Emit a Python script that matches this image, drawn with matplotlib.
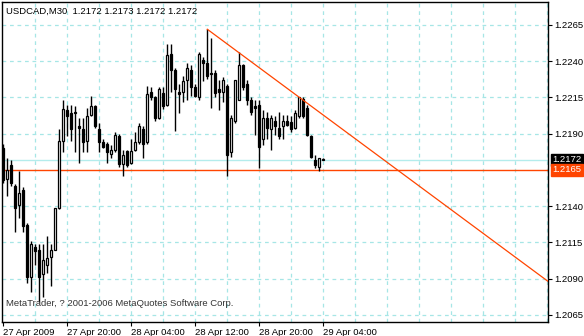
import numpy as np
import matplotlib
matplotlib.use("Agg")
import matplotlib.pyplot as plt

plt.rcParams["font.family"] = ["Liberation Sans", "DejaVu Sans"]

# USDCAD M30, bars from 27 Apr 2009 12:00 to 29 Apr 2009 04:00
opens = [1.2180, 1.2159, 1.2168, 1.2154, 1.2141, 1.2151, 1.2127, 1.2091, 1.2112, 1.2110,
         1.2093, 1.2099, 1.2105, 1.2110, 1.2139, 1.2185, 1.2206, 1.2204, 1.2205, 1.2195,
         1.2193, 1.2185, 1.2203, 1.2209, 1.2193, 1.2184, 1.2183, 1.2176, 1.2179, 1.2188,
         1.2169, 1.2178, 1.2170, 1.2179, 1.2184, 1.2193, 1.2184, 1.2219, 1.2215, 1.2201,
         1.2218, 1.2210, 1.2245, 1.2234, 1.2219, 1.2219, 1.2227, 1.2234, 1.2222, 1.2215,
         1.2241, 1.2239, 1.2232, 1.2232, 1.2221, 1.2219, 1.2223, 1.2177, 1.2199, 1.2213,
         1.2237, 1.2224, 1.2213, 1.2209, 1.2210, 1.2186, 1.2201, 1.2193, 1.2199, 1.2194,
         1.2195, 1.2199, 1.2198, 1.2194, 1.2202, 1.2214, 1.2208, 1.2188, 1.2172, 1.2167,
         1.2172]
highs = [1.2183, 1.2173, 1.2172, 1.2155, 1.2164, 1.2153, 1.2128, 1.2116, 1.2114, 1.2114,
         1.2114, 1.2119, 1.2114, 1.2139, 1.2193, 1.2213, 1.2210, 1.2210, 1.2209, 1.2201,
         1.2201, 1.2208, 1.2216, 1.2210, 1.2197, 1.2186, 1.2184, 1.2182, 1.2191, 1.2190,
         1.2179, 1.2179, 1.2186, 1.2191, 1.2197, 1.2195, 1.2223, 1.2222, 1.2216, 1.2222,
         1.2222, 1.2252, 1.2252, 1.2235, 1.2224, 1.2230, 1.2239, 1.2237, 1.2224, 1.2246,
         1.2243, 1.2262, 1.2256, 1.2234, 1.2227, 1.2229, 1.2224, 1.2203, 1.2227, 1.2246,
         1.2238, 1.2227, 1.2215, 1.2213, 1.2213, 1.2206, 1.2205, 1.2203, 1.2202, 1.2205,
         1.2203, 1.2203, 1.2202, 1.2206, 1.2215, 1.2215, 1.2210, 1.2189, 1.2175, 1.2173,
         1.2173]
lows = [1.2156, 1.2147, 1.2154, 1.2122, 1.2132, 1.2122, 1.2087, 1.2081, 1.2099, 1.2074,
        1.2077, 1.2094, 1.2085, 1.2110, 1.2138, 1.2177, 1.2188, 1.2185, 1.2177, 1.2170,
        1.2177, 1.2177, 1.2202, 1.2194, 1.2177, 1.2180, 1.2170, 1.2173, 1.2177, 1.2167,
        1.2161, 1.2167, 1.2169, 1.2178, 1.2183, 1.2173, 1.2183, 1.2213, 1.2199, 1.2200,
        1.2207, 1.2209, 1.2219, 1.2192, 1.2204, 1.2212, 1.2213, 1.2216, 1.2215, 1.2213,
        1.2226, 1.2228, 1.2208, 1.2215, 1.2206, 1.2212, 1.2161, 1.2174, 1.2197, 1.2213,
        1.2220, 1.2210, 1.2203, 1.2189, 1.2166, 1.2182, 1.2186, 1.2179, 1.2189, 1.2186,
        1.2186, 1.2195, 1.2191, 1.2193, 1.2201, 1.2201, 1.2188, 1.2173, 1.2166, 1.2164,
        1.2172]
closes = [1.2158, 1.2165, 1.2156, 1.2139, 1.2149, 1.2126, 1.2091, 1.2114, 1.2109, 1.2091,
          1.2103, 1.2104, 1.2110, 1.2139, 1.2185, 1.2207, 1.2202, 1.2193, 1.2204, 1.2194,
          1.2184, 1.2202, 1.2209, 1.2195, 1.2184, 1.2181, 1.2177, 1.2179, 1.2189, 1.2169,
          1.2175, 1.2168, 1.2178, 1.2184, 1.2195, 1.2183, 1.2217, 1.2215, 1.2201, 1.2221,
          1.2209, 1.2244, 1.2234, 1.2221, 1.2217, 1.2226, 1.2235, 1.2222, 1.2216, 1.2245,
          1.2239, 1.2230, 1.2231, 1.2218, 1.2219, 1.2227, 1.2175, 1.2201, 1.2227, 1.2237,
          1.2222, 1.2213, 1.2205, 1.2208, 1.2181, 1.2201, 1.2194, 1.2201, 1.2195, 1.2188,
          1.2199, 1.2196, 1.2193, 1.2204, 1.2215, 1.2202, 1.2189, 1.2174, 1.2168, 1.2173,
          1.2172]

date_labels = ["27 Apr 2009", "27 Apr 20:00", "28 Apr 04:00", "28 Apr 12:00",
               "28 Apr 20:00", "29 Apr 04:00"]
date_bars = [0, 16, 32, 48, 64, 80]
price_ticks = [1.2265, 1.2240, 1.2215, 1.2190, 1.2140, 1.2115, 1.2090, 1.2065]
bid = 1.2172
hline_level = 1.2165
trend_bars = [51, 75]
trend_prices = [1.2262, 1.2213]

grid_c = "#a6e6e6"
red = "#ff4500"
fs = 6.8

fig = plt.figure(figsize=(5.84, 3.36), dpi=100)
ax = fig.add_axes([2 / 584, 14 / 336, 546 / 584, 320 / 336])
ax.set_xlim(-0.33, 136.2)
ax.set_ylim(1.2060, 1.22808)

# grid
for gx in np.arange(8, 137, 8):
    ax.axvline(gx, color=grid_c, lw=0.9, ls=(0, (3, 3)), zorder=0)
for gy in price_ticks:
    ax.axhline(gy, color=grid_c, lw=0.9, ls=(0, (3, 3)), zorder=0)

# levels
ax.axhline(bid, color="#b4ecec", lw=1.0, zorder=1)
ax.axhline(hline_level, color=red, lw=1.0, zorder=1)

# candles
o = np.array(opens); h = np.array(highs); l = np.array(lows); c = np.array(closes)
idx = np.arange(len(o))
ax.vlines(idx, l, h, color="black", lw=1.0, zorder=2)
up = c >= o
body = np.abs(c - o)
body = np.where(body < 0.00002, 0.00002, body)
ax.bar(idx[up], body[up], bottom=o[up], width=0.55, color="white",
       edgecolor="black", linewidth=0.9, zorder=3)
ax.bar(idx[~up], body[~up], bottom=c[~up], width=0.55, color="black",
       edgecolor="black", linewidth=0.9, zorder=3)

# trend line (ray)
slope = (trend_prices[1] - trend_prices[0]) / (trend_bars[1] - trend_bars[0])
tx = np.array([trend_bars[0], 140])
ax.plot(tx, trend_prices[0] + slope * (tx - trend_bars[0]), color=red, lw=0.9, zorder=4)

# axes styling
for s in ax.spines.values():
    s.set_color("black")
    s.set_linewidth(1.0)
ax.yaxis.tick_right()
ax.set_yticks(price_ticks)
ax.set_yticklabels([f"{p:.4f}" for p in price_ticks])
ax.tick_params(axis="y", direction="out", length=3, width=0.8, pad=1.5, labelsize=fs)
ax.set_xticks(date_bars)
ax.set_xticklabels(date_labels, ha="left")
ax.tick_params(axis="x", direction="out", length=3, width=0.8, pad=1, labelsize=fs)

# price boxes on the right
ax.annotate(f"{bid:.4f}", xy=(1.0, bid), xycoords=("axes fraction", "data"),
            xytext=(3.2, 0), textcoords="offset points", va="center", ha="left",
            fontsize=fs, color="white",
            bbox=dict(boxstyle="square,pad=0.15", fc="black", ec="black"))
ax.annotate(f"{hline_level:.4f}", xy=(1.0, hline_level), xycoords=("axes fraction", "data"),
            xytext=(3.2, 0), textcoords="offset points", va="center", ha="left",
            fontsize=fs, color="white",
            bbox=dict(boxstyle="square,pad=0.15", fc=red, ec=red))

ax.text(0.008, 0.985, "USDCAD,M30  1.2172 1.2173 1.2172 1.2172", transform=ax.transAxes,
        fontsize=fs, va="top", ha="left", color="black")
ax.text(0.007, 0.045, "MetaTrader, ? 2001-2006 MetaQuotes Software Corp.", transform=ax.transAxes,
        fontsize=fs, va="bottom", ha="left", color="#333333")

fig.savefig("out.png", dpi=100, facecolor="white")
